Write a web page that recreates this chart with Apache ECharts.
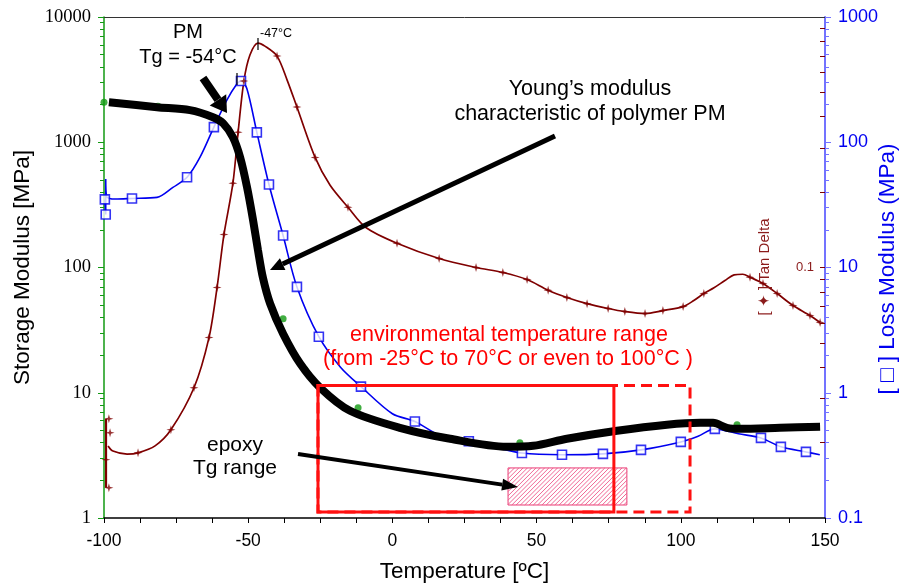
<!DOCTYPE html>
<html><head><meta charset="utf-8">
<script src="https://cdn.jsdelivr.net/npm/echarts@6/dist/echarts.min.js"></script>
<style>html,body{margin:0;padding:0;background:#fff}#c{width:909px;height:587px}</style>
</head><body><div id="c"></div>
<script>
// ---------- data ----------
const xTickLabels = [-100, -50, 0, 50, 100, 150];
const storageTicks = [1, 10, 100, 1000, 10000];
const lossTicks = [0.1, 1, 10, 100, 1000];
const tanTicks = [0.01, 0.1, 1];

// Storage modulus (black, left axis, MPa)
const storageT = [-98.3,-81.6,-70.2,-62.2,-58.7,-55.3,-52.8,-50.4,-48.3,-46.6,-44.9,-42.4,-37.9,-32.0,-25.1,-14.7,2.6,20,39.7,48.8,60.5,77.9,95.2,106.7,111.2,116.0,120.5,134.4,148.3];
const storageV = [2089,1905,1803,1585,1419,1096,759,437,238,137,83,51.5,29.6,17.1,11.0,7.18,5.25,4.29,3.70,3.77,4.29,4.97,5.55,5.75,5.75,5.25,5.15,5.25,5.35];
// Storage modulus sample points (green dots)
const storageMarkT = [-100,-81.3,-37.9,-30.3,-11.9,44.2,119.5];
const storageMarkV = [2090,1941,39,15.3,7.6,3.98,5.55];

// Loss modulus (blue, right axis, MPa)
const lossT = [-99.7,-99.4,-99.4,-99.1,-96,-90.3,-81.6,-76.1,-71.2,-66.7,-61.9,-57.4,-54,-52.5,-50.5,-47,-42.8,-37.9,-33.1,-25.5,-18,-10.9,0,7.8,17,26.5,35,44.9,58.8,73,86.2,100,106,111.8,120,127.8,134.7,143.4,148.2];
const lossV = [35,26.5,51,37,35.2,35.6,36.3,43.6,52.5,76,132,217,290,308,270,120,46,18,7.0,2.8,1.6,1.12,0.68,0.59,0.45,0.41,0.37,0.33,0.32,0.325,0.35,0.405,0.45,0.515,0.47,0.436,0.37,0.337,0.32];
const lossMarkT = [-99.7,-99.4,-90.3,-71.2,-61.9,-52.5,-47,-42.8,-37.9,-33.1,-25.5,-10.9,7.8,26.5,44.9,58.8,73,86.2,100,111.8,127.8,134.7,143.4];
const lossMarkV = [35,26.5,35.6,52.5,132,308,120,46,18,7.0,2.8,1.12,0.59,0.41,0.33,0.32,0.325,0.35,0.405,0.515,0.436,0.37,0.337];

// Tan delta (dark red, inner right axis)
const tanStubT = [-99.3,-99.3];
const tanStubV = [0.0132,0.0249];
const tanT = [-98.6,-96.9,-92,-88.2,-82.3,-76.8,-68.8,-63.6,-60.8,-58.4,-55.3,-53.5,-51.5,-49.4,-46.6,-44.2,-40,-36.5,-33.1,-26.8,-21.6,-15.4,-9.2,1.6,16.2,29,38.3,46.7,54,60.5,67.5,74.8,80.6,87.6,93.8,100.8,104.5,108,111.5,115.3,118.5,121.5,124,128.5,133.4,138.9,144.8,148.3];
const tanV = [0.0194,0.0185,0.018,0.0182,0.0194,0.0225,0.0331,0.0525,0.0832,0.1355,0.217,0.347,0.555,0.705,0.787,0.765,0.698,0.56,0.437,0.275,0.213,0.174,0.1445,0.125,0.1086,0.1,0.0955,0.0895,0.0811,0.0759,0.0717,0.0686,0.0667,0.0655,0.0673,0.0698,0.0738,0.0787,0.0830,0.0887,0.0935,0.0940,0.0915,0.0863,0.0787,0.0705,0.0643,0.0603];
const tanMarkT = [-98.3,-97.9,-99.3,-98.3,-88.2,-76.8,-68.8,-63.6,-60.8,-58.4,-55.3,-53.5,-51.5,-40,-33.1,-26.8,-15.4,1.6,16.2,29,38.3,46.7,54,60.5,67.5,74.8,80.6,87.6,93.8,100.8,108,124,128.5,133.4,138.9,144.8,148.3];
const tanMarkV = [0.0249,0.0219,0.0171,0.0132,0.0182,0.0225,0.0331,0.0525,0.0832,0.1355,0.217,0.347,0.555,0.698,0.437,0.275,0.174,0.125,0.1086,0.1,0.0955,0.0895,0.0811,0.0759,0.0717,0.0686,0.0667,0.0655,0.0673,0.0698,0.0787,0.0915,0.0863,0.0787,0.0705,0.0643,0.0603];

// ---------- helpers ----------
const zip = (a, b) => a.map((x, i) => [x, b[i]]);
const minorOf = (lo, hi) => { const o = []; for (let d = lo; d < hi * 0.999; d *= 10) for (let k = 2; k <= 9; k++) o.push(+(k * d).toPrecision(4)); return o; };
const near = (v, list) => list.some(t => Math.abs(Math.log10(v) - Math.log10(t)) < 1e-6);
const GREEN = '#129a12', BLUE = '#0000f0', BLUEAX = '#7373ff', DRED = '#7f0000', SANS = 'Liberation Sans, Arial, sans-serif';
const STAR = 'path://M0,-10 L2.2,-2.2 L10,0 L2.2,2.2 L0,10 L-2.2,2.2 L-10,0 L-2.2,-2.2 Z';

const chart = echarts.init(document.getElementById('c'), null, { renderer: 'canvas' });

const option = {
  animation: false,
  backgroundColor: '#fff',
  grid: { left: 104, right: 84, top: 17, bottom: 69, containLabel: false, outerBoundsMode: 'none' },
  xAxis: [
    { type: 'value', position: 'bottom', min: -100, max: 150, interval: 50,
      axisLine: { show: true, onZero: false, lineStyle: { color: '#000', width: 1.5 } },
      axisTick: { show: true, length: 5, lineStyle: { color: '#000' } },
      minorTick: { show: true, splitNumber: 4, length: 5, lineStyle: { color: '#000' } },
      splitLine: { show: false },
      axisLabel: { fontFamily: SANS, fontSize: 17.5, color: '#000', margin: 14,
        formatter: v => xTickLabels.includes(v) ? String(v) : '' },
      name: 'Temperature [ºC]', nameLocation: 'middle', nameGap: 42,
      nameTextStyle: { fontFamily: SANS, fontSize: 22.5, color: '#000' } },
    { type: 'value', position: 'top', min: -100, max: 150,
      axisLine: { show: true, onZero: false, lineStyle: { color: '#333', width: 1 } },
      axisTick: { show: false }, axisLabel: { show: false }, splitLine: { show: false } }
  ],
  yAxis: [
    { type: 'log', logBase: 10, position: 'left', min: 1, max: 10000,
      axisLine: { show: true, onZero: false, lineStyle: { color: GREEN, width: 1.5 } },
      axisTick: { show: true, length: 6, lineStyle: { color: GREEN } },
      axisLabel: { fontFamily: 'Liberation Serif, Times New Roman, serif', fontSize: 18.5, color: '#000', margin: 13,
        formatter: v => near(v, storageTicks) ? String(Math.round(v)) : '' },
      splitLine: { show: false },
      name: 'Storage Modulus [MPa]', nameLocation: 'middle', nameGap: 66, nameRotate: 90,
      nameTextStyle: { fontFamily: SANS, fontSize: 22.5, color: '#000' } },
    { type: 'log', logBase: 10, position: 'left', min: 1, max: 10000,
      axisLine: { show: false, onZero: false }, axisLabel: { show: false }, splitLine: { show: false },
      axisTick: { show: true, length: 4, customValues: minorOf(1, 10000), lineStyle: { color: GREEN } } },
    { type: 'log', logBase: 10, position: 'right', min: 0.1, max: 1000,
      axisLine: { show: true, onZero: false, lineStyle: { color: BLUEAX, width: 2 } },
      axisTick: { show: true, length: 6, lineStyle: { color: BLUEAX } },
      axisLabel: { fontFamily: SANS, fontSize: 18, color: BLUE, margin: 13,
        formatter: v => near(v, lossTicks) ? String(+v.toPrecision(3)) : '' },
      splitLine: { show: false } },
    { type: 'log', logBase: 10, position: 'right', min: 0.1, max: 1000,
      axisLine: { show: false, onZero: false }, axisLabel: { show: false }, splitLine: { show: false },
      axisTick: { show: true, length: 4, customValues: minorOf(0.1, 1000), lineStyle: { color: BLUEAX } } },
    { type: 'log', logBase: 10, position: 'right', min: 0.01, max: 1,
      axisLine: { show: false, onZero: false }, splitLine: { show: false },
      axisTick: { show: true, inside: true, length: 5, customValues: minorOf(0.01, 1).concat([0.1]), lineStyle: { color: DRED } },
      axisLabel: { show: true, inside: true, margin: 11, fontFamily: SANS, fontSize: 13, color: '#8b1c1c',
        formatter: v => Math.abs(Math.log10(v) + 1) < 1e-6 ? '0.1' : '' } }
  ],
  series: [
    { type: 'scatter', name: 'storage samples', xAxisIndex: 0, yAxisIndex: 0, data: zip(storageMarkT, storageMarkV),
      symbol: 'circle', symbolSize: 7, itemStyle: { color: GREEN }, z: 1, silent: true },
    { type: 'line', name: 'Loss Modulus', xAxisIndex: 0, yAxisIndex: 2, data: zip(lossT, lossV),
      smooth: 0.3, showSymbol: false, symbol: 'none', lineStyle: { color: BLUE, width: 1.6 }, z: 3 },
    { type: 'scatter', name: 'loss markers', xAxisIndex: 0, yAxisIndex: 2, data: zip(lossMarkT, lossMarkV),
      symbol: 'rect', symbolSize: 9, itemStyle: { color: '#fff', borderColor: BLUE, borderWidth: 1.6 }, z: 4 },
    { type: 'line', name: 'Tan Delta stub', xAxisIndex: 0, yAxisIndex: 4, data: zip(tanStubT, tanStubV),
      showSymbol: false, symbol: 'none', lineStyle: { color: DRED, width: 2.2 }, z: 3 },
    { type: 'line', name: 'Tan Delta', xAxisIndex: 0, yAxisIndex: 4, data: zip(tanT, tanV),
      smooth: 0.3, showSymbol: false, symbol: 'none', lineStyle: { color: DRED, width: 1.7 }, z: 3 },
    { type: 'scatter', name: 'tan markers', xAxisIndex: 0, yAxisIndex: 4, data: zip(tanMarkT, tanMarkV),
      symbol: STAR, symbolSize: 9, itemStyle: { color: DRED }, z: 4 },
    { type: 'line', name: 'Storage Modulus', xAxisIndex: 0, yAxisIndex: 0, data: zip(storageT, storageV),
      smooth: 0.3, showSymbol: false, symbol: 'none', lineStyle: { color: '#000', width: 8 }, z: 6 }
  ]
};
chart.setOption(option);

// ---------- annotations ----------
const P = (x, y) => chart.convertToPixel({ xAxisIndex: 0, yAxisIndex: 0 }, [x, y]);
function arrow(x1, y1, x2, y2, w, hl, hw) {
  const a = Math.atan2(y2 - y1, x2 - x1);
  const bx = x2 - hl * Math.cos(a), by = y2 - hl * Math.sin(a);
  const px = -Math.sin(a), py = Math.cos(a);
  return [
    { type: 'line', z: 120, shape: { x1, y1, x2: bx, y2: by }, style: { stroke: '#000', lineWidth: w } },
    { type: 'polygon', z: 120, shape: { points: [[x2, y2], [bx + px * hw / 2, by + py * hw / 2], [bx - px * hw / 2, by - py * hw / 2]] }, style: { fill: '#000' } }
  ];
}
function txt(x, y, text, size, color, rot) {
  return { type: 'text', z: 130, x, y, rotation: rot || 0,
    style: { text, font: size + 'px ' + SANS, fill: color || '#000', align: 'center', verticalAlign: 'middle', textAlign: 'center', textVerticalAlign: 'middle' } };
}
function vtick(x, y1, y2) { return { type: 'line', z: 130, shape: { x1: x, y1, x2: x, y2 }, style: { stroke: '#000', lineWidth: 1.2 } }; }
function hatch(x0, y0, x1, y1, s, color) {
  const out = [];
  for (let k = x0 + y0 + s / 2; k < x1 + y1; k += s) {
    const xa = Math.max(x0, k - y1), xb = Math.min(x1, k - y0);
    if (xb > xa) out.push({ type: 'line', z: 50, shape: { x1: xa, y1: k - xa, x2: xb, y2: k - xb }, style: { stroke: color, lineWidth: 0.9 } });
  }
  return out;
}

const envA = P(-25.8, 11.4), envB = P(76.8, 1.117), envC = P(103.2, 1.117);
const epA = P(40.1, 2.51), epB = P(81.3, 1.27);

const graphics = [
  { type: 'rect', z: 49, shape: { x: epA[0], y: epA[1], width: epB[0] - epA[0], height: epB[1] - epA[1] },
    style: { fill: '#fff', stroke: '#ea3a74', lineWidth: 1 } },
  ...hatch(epA[0], epA[1], epB[0], epB[1], 4.3, '#ee5588'),
  { type: 'rect', z: 60, shape: { x: envA[0], y: envA[1], width: envC[0] - envA[0], height: envC[1] - envA[1] },
    style: { fill: 'none', stroke: '#ff1010', lineWidth: 3, lineDash: [11, 6] } },
  { type: 'rect', z: 61, shape: { x: envA[0], y: envA[1], width: envB[0] - envA[0], height: envB[1] - envA[1] },
    style: { fill: 'none', stroke: '#ff1010', lineWidth: 3 } },
  ...arrow(203, 78, 227, 113, 8, 16, 20),
  ...arrow(555, 136, 270, 270, 5, 14, 13),
  ...arrow(298, 454, 518, 487, 4, 16, 12),
  txt(188, 32, 'PM', 20),
  txt(188, 57, 'Tg = -54°C', 20),
  { type: 'text', z: 130, x: 260, y: 34, style: { text: '-47°C', font: '12.5px ' + SANS, fill: '#000', align: 'left', verticalAlign: 'middle', textAlign: 'left', textVerticalAlign: 'middle' } },
  vtick(258, 38, 50),
  vtick(237, 73, 85),
  txt(590, 89, 'Young’s modulus', 21.5),
  txt(590, 114, 'characteristic of polymer PM', 21.5),
  txt(509, 335, 'environmental temperature range', 21.5, '#ff0000'),
  txt(508, 359, '(from -25°C to 70°C or even to 100°C )', 21.5, '#ff0000'),
  txt(235, 445, 'epoxy', 21),
  txt(235, 468, 'Tg range', 21),
  txt(765, 267, '[ ✦ ] Tan Delta', 15, '#8b1c1c', Math.PI / 2),
  txt(888, 269, '[ □ ] Loss Modulus (MPa)', 22.5, BLUE, Math.PI / 2)
];
chart.setOption({ graphic: graphics });
</script></body></html>
